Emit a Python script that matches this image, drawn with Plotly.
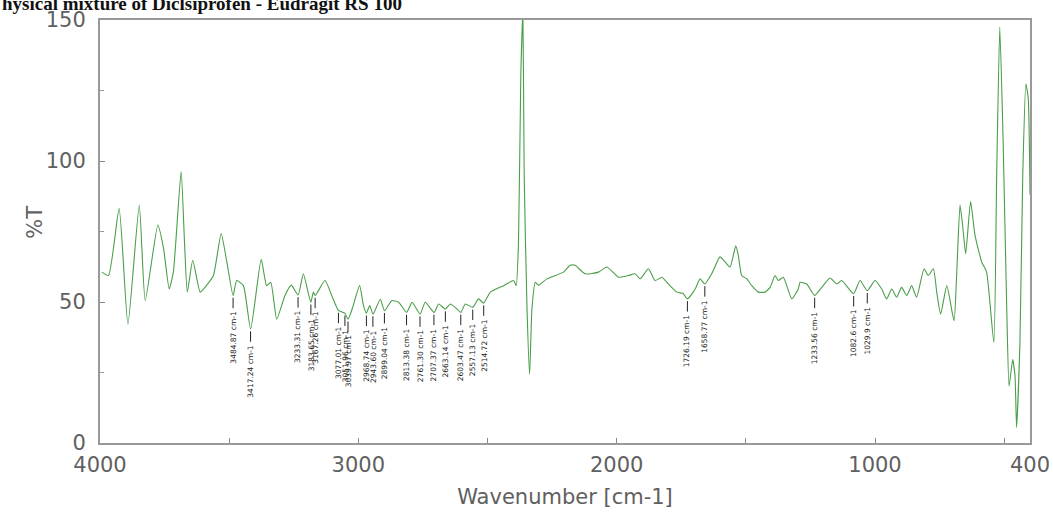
import plotly.graph_objects as go

# ---- spectrum trace (wavenumber, %T) ----
wavenumber = [3993, 3967, 3926, 3892, 3848, 3825, 3776, 3754, 3732, 3716, 3686, 3673, 3662, 3641,
              3612, 3593, 3561, 3531, 3509, 3485, 3471, 3445, 3417, 3376, 3355, 3339, 3316, 3284,
              3260, 3233, 3213, 3184, 3174, 3167, 3129, 3103, 3077, 3052, 3040, 3024, 2995, 2980,
              2969, 2956, 2943, 2915, 2899, 2870, 2844, 2813, 2792, 2761, 2741, 2707, 2689, 2663,
              2644, 2625, 2603, 2586, 2557, 2535, 2515, 2489, 2438, 2399, 2389, 2380, 2371, 2363,
              2358, 2347, 2337, 2328, 2315, 2303, 2270, 2206, 2180, 2161, 2122, 2070, 2038, 1993,
              1954, 1929, 1909, 1877, 1851, 1825, 1800, 1767, 1743, 1726, 1696, 1677, 1659, 1632,
              1600, 1580, 1561, 1539, 1529, 1516, 1496, 1477, 1451, 1426, 1406, 1387, 1374, 1355,
              1322, 1297, 1290, 1264, 1234, 1206, 1174, 1148, 1129, 1083, 1058, 1030, 1000, 974,
              955, 935, 916, 897, 877, 858, 839, 810, 794, 774, 761, 746, 722, 694, 684, 671, 661,
              649, 630, 613, 587, 568, 540, 529, 517, 504, 490, 481, 467, 458, 452, 439, 428, 416,
              407, 400]
transmittance = [60.6, 59.4, 83.2, 42.1, 84.4, 50.5, 77.3, 69.0, 54.6, 60.7, 96.3, 71.4, 53.5, 64.8,
                 53.5, 55.3, 59.4, 74.3, 64.2, 52.3, 57.6, 55.8, 40.4, 65.1, 55.8, 57.0, 43.9, 52.3,
                 56.0, 52.5, 60.0, 49.9, 53.5, 52.3, 57.6, 52.3, 47.0, 46.0, 43.9, 47.5, 55.8, 48.7,
                 46.0, 48.7, 45.7, 51.0, 46.9, 50.5, 49.9, 46.3, 49.9, 45.7, 49.9, 46.3, 49.3, 47.5,
                 49.3, 48.1, 46.3, 49.3, 48.1, 51.1, 49.6, 53.5, 55.8, 57.6, 55.8, 71.3, 130.8, 153.0,
                 95.0, 47.5, 24.3, 47.5, 57.0, 56.0, 58.2, 60.6, 63.0, 63.0, 60.0, 60.6, 62.4, 58.8,
                 59.4, 60.0, 58.2, 61.8, 57.6, 58.8, 56.4, 53.5, 53.0, 51.1, 54.6, 58.2, 56.4, 60.0,
                 66.0, 64.2, 62.4, 69.9, 66.5, 59.4, 58.2, 55.8, 53.5, 53.5, 55.2, 59.4, 57.6, 58.8,
                 51.1, 54.6, 57.0, 56.4, 52.3, 55.2, 58.5, 56.4, 57.6, 52.9, 57.6, 54.0, 57.6, 54.6,
                 51.1, 54.6, 51.7, 55.2, 52.3, 55.8, 51.7, 61.8, 59.4, 61.8, 53.5, 45.7, 55.8, 43.3,
                 59.4, 84.4, 77.3, 67.1, 85.6, 73.7, 64.2, 60.6, 35.6, 95.0, 147.5, 107.0, 47.5,
                 20.1, 29.6, 23.7, 5.5, 35.6, 95.0, 127.3, 122.5, 88.0]

# ---- labelled peaks ----
peak_wn = [3484.87, 3417.24, 3233.31, 3183.65, 3167.26, 3077.01, 3051.96, 3039.97, 2968.74,
           2943.60, 2899.04, 2813.38, 2761.30, 2707.37, 2663.14, 2603.47, 2557.13, 2514.72,
           1726.19, 1658.77, 1233.56, 1082.6, 1029.9]
peak_t = [52.3, 40.4, 52.5, 49.9, 52.3, 47.0, 46.0, 43.9, 46.0, 45.7, 46.9, 46.3, 45.7, 46.3,
          47.5, 46.3, 48.1, 49.6, 51.1, 56.4, 52.3, 52.9, 54.0]
peak_labels = [f"{w:.2f} cm-1" if w > 1100 else f"{w} cm-1" for w in peak_wn]

x_tickvals = [4000, 3500, 3000, 2500, 2000, 1500, 1000, 500, 400]
x_ticktext = ["4000", "", "3000", "", "2000", "", "1000", "", "400"]
y_tickvals = [0, 50, 100, 150]

title_text = "hysical mixture of Diclsiprofen - Eudragit RS 100"

fig = go.Figure()
fig.add_trace(go.Scatter(x=wavenumber, y=transmittance, mode="lines",
                         line=dict(color="#4a9e4a", width=1.1, shape="spline", smoothing=0.5),
                         hoverinfo="skip", showlegend=False))

# peak tick marks
tx, ty = [], []
for w, t in zip(peak_wn, peak_t):
    tx += [w, w, None]
    ty += [t - 0.8, t - 4.5, None]
fig.add_trace(go.Scatter(x=tx, y=ty, mode="lines", line=dict(color="#222", width=1),
                         hoverinfo="skip", showlegend=False))

for w, t, lab in zip(peak_wn, peak_t, peak_labels):
    fig.add_annotation(x=w, y=t - 4.8, text=lab, showarrow=False, textangle=-90,
                       xanchor="center", yanchor="top",
                       font=dict(family="DejaVu Sans", size=7.5, color="#222"))

fig.add_annotation(xref="paper", yref="paper", x=-0.1075, y=1.040, xanchor="left", yanchor="middle",
                   text=f"<b>{title_text}</b>", showarrow=False,
                   font=dict(family="Liberation Serif", size=19, color="#111"))

axis_font = dict(family="DejaVu Sans", size=21, color="#606060")

fig.add_annotation(xref="paper", yref="paper", x=-0.0693, y=0.522, xanchor="center",
                   yanchor="middle", text="%T", textangle=-90, showarrow=False, font=axis_font)

fig.update_xaxes(range=[4000, 400], tickvals=x_tickvals, ticktext=x_ticktext,
                 ticks="inside", ticklen=5, tickcolor="#888", tickfont=axis_font,
                 ticklabelstandoff=2, automargin=False,
                 showline=True, linecolor="#999", linewidth=2, mirror=True,
                 showgrid=False, zeroline=False,
                 title=dict(text="Wavenumber [cm-1]", font=axis_font, standoff=13),
                 minor=dict(ticks="", showgrid=False))
fig.update_yaxes(range=[0, 150], tickvals=y_tickvals, ticks="inside", ticklen=5,
                 tickcolor="#888", tickfont=axis_font, ticklabelstandoff=8, automargin=False,
                 showline=True, linecolor="#999", linewidth=2, mirror=True,
                 showgrid=False, zeroline=False,
                 minor=dict(tickvals=[25, 75, 125], ticks="inside", ticklen=4, tickcolor="#999"))

fig.update_layout(width=1053, height=513, margin=dict(l=100, r=23, t=20, b=70),
                  plot_bgcolor="white", paper_bgcolor="white")

# remove the page's default body margin so the figure sits at the window's top-left corner
fig.write_html("out.html", config={"displayModeBar": False},
               post_script="document.body.style.margin='0';")
